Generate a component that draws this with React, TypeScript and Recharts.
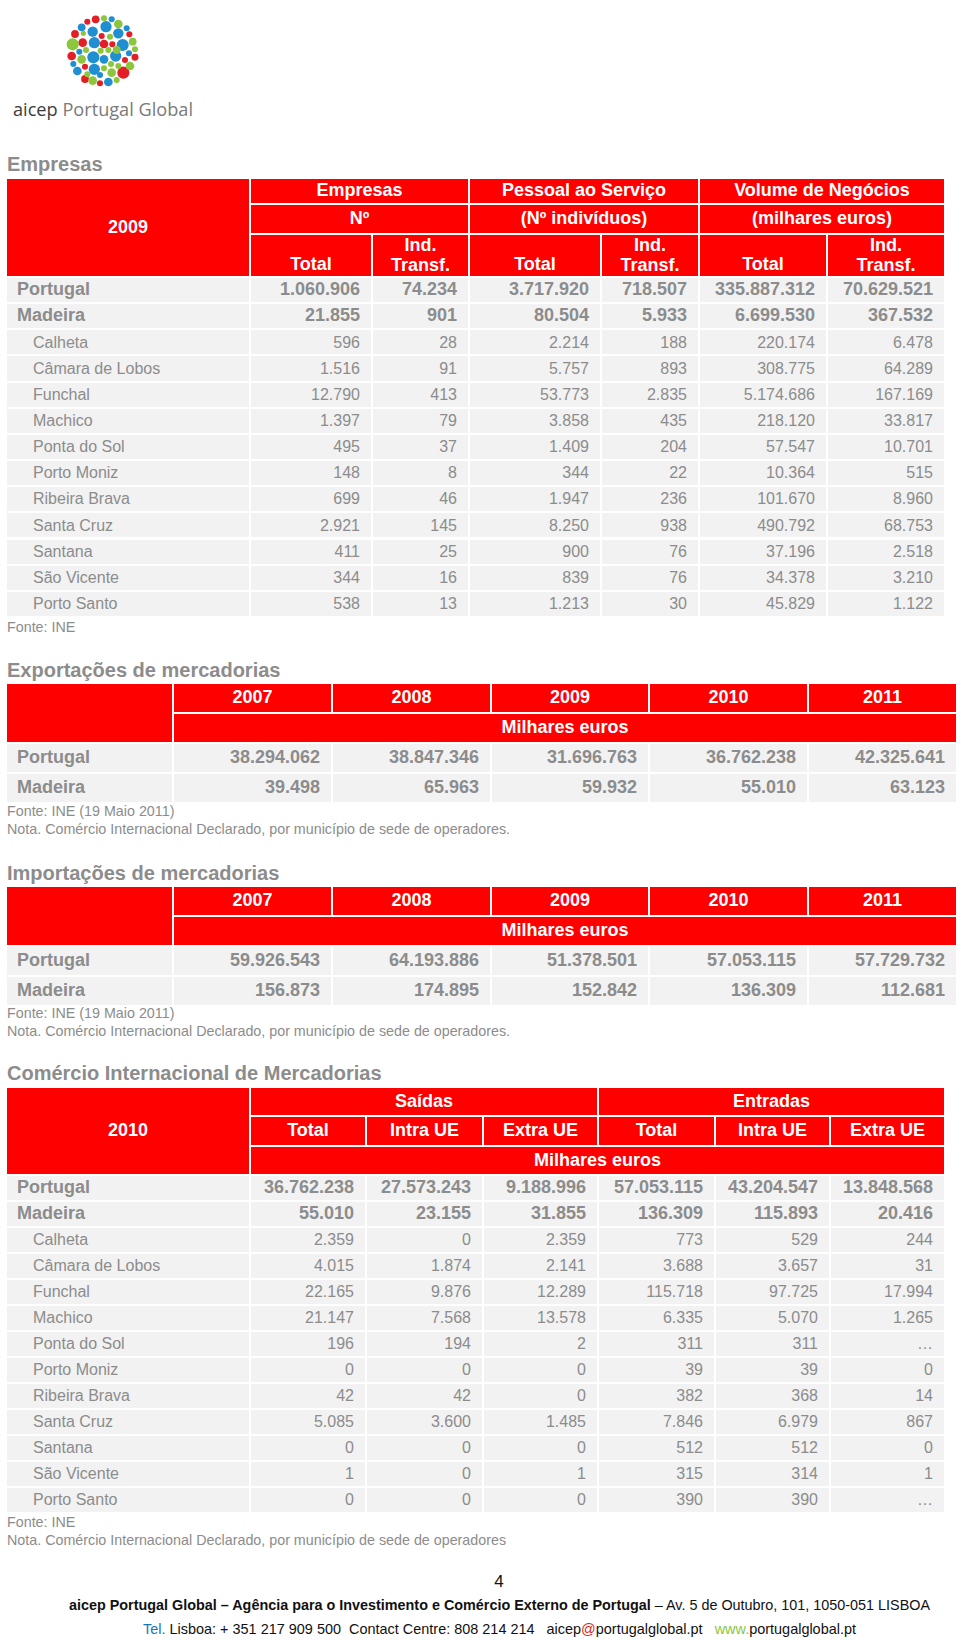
import React from 'react';
import { ScatterChart, Scatter, XAxis, YAxis } from 'recharts';

const FONT = '"Liberation Sans", Arial, Helvetica, sans-serif';
const GREY = '#8c8c8c';
const RED = '#ff0000';
const ROW_BG = '#f2f2f2';

// ---------- Empresas (2009) ----------
const empresasRegions = ['Portugal', 'Madeira', 'Calheta', 'Câmara de Lobos', 'Funchal', 'Machico', 'Ponta do Sol', 'Porto Moniz', 'Ribeira Brava', 'Santa Cruz', 'Santana', 'São Vicente', 'Porto Santo'];
const empresasTotal = ['1.060.906', '21.855', '596', '1.516', '12.790', '1.397', '495', '148', '699', '2.921', '411', '344', '538'];
const empresasInd = ['74.234', '901', '28', '91', '413', '79', '37', '8', '46', '145', '25', '16', '13'];
const pessoalTotal = ['3.717.920', '80.504', '2.214', '5.757', '53.773', '3.858', '1.409', '344', '1.947', '8.250', '900', '839', '1.213'];
const pessoalInd = ['718.507', '5.933', '188', '893', '2.835', '435', '204', '22', '236', '938', '76', '76', '30'];
const volumeTotal = ['335.887.312', '6.699.530', '220.174', '308.775', '5.174.686', '218.120', '57.547', '10.364', '101.670', '490.792', '37.196', '34.378', '45.829'];
const volumeInd = ['70.629.521', '367.532', '6.478', '64.289', '167.169', '33.817', '10.701', '515', '8.960', '68.753', '2.518', '3.210', '1.122'];

// ---------- Exportações / Importações ----------
const tradeYears = ['2007', '2008', '2009', '2010', '2011'];
const tradeRegions = ['Portugal', 'Madeira'];
const exportPortugal = ['38.294.062', '38.847.346', '31.696.763', '36.762.238', '42.325.641'];
const exportMadeira = ['39.498', '65.963', '59.932', '55.010', '63.123'];
const importPortugal = ['59.926.543', '64.193.886', '51.378.501', '57.053.115', '57.729.732'];
const importMadeira = ['156.873', '174.895', '152.842', '136.309', '112.681'];

// ---------- Comércio Internacional (2010) ----------
const comercioRegions = ['Portugal', 'Madeira', 'Calheta', 'Câmara de Lobos', 'Funchal', 'Machico', 'Ponta do Sol', 'Porto Moniz', 'Ribeira Brava', 'Santa Cruz', 'Santana', 'São Vicente', 'Porto Santo'];
const saidasTotal = ['36.762.238', '55.010', '2.359', '4.015', '22.165', '21.147', '196', '0', '42', '5.085', '0', '1', '0'];
const saidasIntra = ['27.573.243', '23.155', '0', '1.874', '9.876', '7.568', '194', '0', '42', '3.600', '0', '0', '0'];
const saidasExtra = ['9.188.996', '31.855', '2.359', '2.141', '12.289', '13.578', '2', '0', '0', '1.485', '0', '1', '0'];
const entradasTotal = ['57.053.115', '136.309', '773', '3.688', '115.718', '6.335', '311', '39', '382', '7.846', '512', '315', '390'];
const entradasIntra = ['43.204.547', '115.893', '529', '3.657', '97.725', '5.070', '311', '39', '368', '6.979', '512', '314', '390'];
const entradasExtra = ['13.848.568', '20.416', '244', '31', '17.994', '1.265', '…', '0', '14', '867', '0', '1', '…'];
const comercioSubHeaders = ['Total', 'Intra UE', 'Extra UE', 'Total', 'Intra UE', 'Extra UE'];

// ---------- Logo dots ----------
const logoRed = [
  { x: 262, y: 65, r: 7 }, { x: 287, y: 58, r: 9 }, { x: 225, y: 102, r: 9 }, { x: 305, y: 108, r: 7 },
  { x: 388, y: 103, r: 7 }, { x: 248, y: 128, r: 10 }, { x: 312, y: 132, r: 10 }, { x: 337, y: 133, r: 7 },
  { x: 215, y: 168, r: 10 }, { x: 375, y: 180, r: 7 }, { x: 405, y: 172, r: 8 }, { x: 255, y: 200, r: 7 },
  { x: 370, y: 218, r: 14 }, { x: 255, y: 237, r: 9 }, { x: 300, y: 250, r: 7 },
];
const logoBlue = [
  { x: 335, y: 58, r: 7 }, { x: 245, y: 82, r: 9 }, { x: 318, y: 80, r: 13 }, { x: 380, y: 85, r: 7 },
  { x: 278, y: 95, r: 12 }, { x: 355, y: 100, r: 12 }, { x: 283, y: 128, r: 13 }, { x: 368, y: 135, r: 14 },
  { x: 238, y: 155, r: 7 }, { x: 387, y: 160, r: 7 }, { x: 280, y: 172, r: 14 }, { x: 312, y: 178, r: 10 },
  { x: 347, y: 168, r: 13 }, { x: 220, y: 192, r: 7 }, { x: 283, y: 208, r: 13 }, { x: 232, y: 213, r: 10 },
  { x: 300, y: 225, r: 7 }, { x: 325, y: 246, r: 10 },
];
const logoGreen = [
  { x: 312, y: 55, r: 7 }, { x: 355, y: 72, r: 10 }, { x: 250, y: 100, r: 6 }, { x: 330, y: 110, r: 7 },
  { x: 218, y: 133, r: 14 }, { x: 398, y: 125, r: 9 }, { x: 258, y: 150, r: 7 }, { x: 302, y: 152, r: 7 },
  { x: 325, y: 150, r: 7 }, { x: 350, y: 150, r: 9 }, { x: 405, y: 148, r: 7 }, { x: 245, y: 178, r: 10 },
  { x: 312, y: 205, r: 7 }, { x: 333, y: 192, r: 7 }, { x: 355, y: 198, r: 7 }, { x: 390, y: 198, r: 10 },
  { x: 262, y: 223, r: 7 }, { x: 335, y: 218, r: 10 }, { x: 278, y: 242, r: 10 }, { x: 350, y: 240, r: 7 },
];

type BoxProps = {
  x0: number; x1: number; y0: number; y1: number;
  bg?: string; align?: 'left' | 'center' | 'right'; valign?: 'top' | 'center' | 'bottom';
  pl?: number; pr?: number; pb?: number; bold?: boolean; size?: number; color?: string;
  children?: React.ReactNode;
};

function Box({ x0, x1, y0, y1, bg, align = 'center', valign = 'center', pl = 0, pr = 0, pb = 0, bold = false, size = 18, color = '#fff', children }: BoxProps) {
  return (
    <div
      style={{
        position: 'absolute', left: x0 + 1, top: y0 + 1, width: x1 - x0 - 2, height: y1 - y0 - 2,
        background: bg, display: 'flex', boxSizing: 'border-box',
        justifyContent: align === 'left' ? 'flex-start' : align === 'right' ? 'flex-end' : 'center',
        alignItems: valign === 'top' ? 'flex-start' : valign === 'bottom' ? 'flex-end' : 'center',
        paddingLeft: pl, paddingRight: pr, paddingBottom: pb,
        fontFamily: FONT, fontWeight: bold ? 700 : 400, fontSize: size, color, lineHeight: 1.1,
        textAlign: align, whiteSpace: 'nowrap',
      }}
    >
      <div>{children}</div>
    </div>
  );
}

function Text({ x, y, size, bold, children, color = GREY }: { x: number; y: number; size: number; bold?: boolean; color?: string; children: React.ReactNode }) {
  return (
    <div style={{ position: 'absolute', left: x, top: y - size * 0.6, fontFamily: FONT, fontSize: size, fontWeight: bold ? 700 : 400, color, lineHeight: 1.2, whiteSpace: 'nowrap' }}>
      {children}
    </div>
  );
}

// A line of text squeezed horizontally to a target width (condensed look)
function FitLine({ x, y, width, size, children }: { x: number; y: number; width: number; size: number; children: React.ReactNode }) {
  const ref = React.useRef<HTMLSpanElement>(null);
  const [scale, setScale] = React.useState(1);
  React.useLayoutEffect(() => {
    if (ref.current) {
      const w = ref.current.getBoundingClientRect().width;
      if (w > 0) setScale(width / w);
    }
  }, [width]);
  return (
    <div style={{ position: 'absolute', left: x, top: y - size * 0.6, fontFamily: FONT, fontSize: size, lineHeight: 1.2, whiteSpace: 'pre', color: '#111', transform: `scaleX(${scale})`, transformOrigin: 'left center' }}>
      <span ref={ref}>{children}</span>
    </div>
  );
}

function DataRows({ xs, y0, rowH, labels, cols }: { xs: number[]; y0: number; rowH: number; labels: string[]; cols: string[][] }) {
  const out: React.ReactNode[] = [];
  labels.forEach((lab, i) => {
    const top = y0 + i * rowH;
    const bot = y0 + (i + 1) * rowH;
    const main = i < 2;
    out.push(
      <Box key={'l' + i} x0={xs[0]} x1={xs[1]} y0={top} y1={bot} bg={ROW_BG} align="left" pl={10} bold={main} size={main ? 18 : 16} color={GREY}>
        {main ? lab : <span style={{ paddingLeft: 16 }}>{lab}</span>}
      </Box>
    );
    cols.forEach((col, j) => {
      out.push(
        <Box key={'c' + i + '_' + j} x0={xs[j + 1]} x1={xs[j + 2]} y0={top} y1={bot} bg={ROW_BG} align="right" pr={11} bold={main} size={main ? 18 : 16} color={GREY}>{col[i]}</Box>
      );
    });
  });
  return <>{out}</>;
}

function TradeTable({ top, title, portugal, madeira, fonteY }: { top: number; title: string; portugal: string[]; madeira: string[]; fonteY: number }) {
  const xs = [6, 173, 332, 491, 649, 808, 957];
  const ys = [top, top + 30, top + 60, top + 90, top + 120];
  return (
    <>
      <Text x={7} y={top - 13} size={20} bold>{title}</Text>
      <Box x0={xs[0]} x1={xs[1]} y0={ys[0]} y1={ys[2]} bg={RED} />
      {tradeYears.map((yr, i) => (
        <Box key={yr} x0={xs[i + 1]} x1={xs[i + 2]} y0={ys[0]} y1={ys[1]} bg={RED} bold>{yr}</Box>
      ))}
      <Box x0={xs[1]} x1={xs[6]} y0={ys[1]} y1={ys[2]} bg={RED} bold>Milhares euros</Box>
      <DataRows xs={xs} y0={ys[2]} rowH={30} labels={tradeRegions} cols={tradeYears.map((_, i) => [portugal[i], madeira[i]])} />
      <Text x={7} y={fonteY} size={14.3}>Fonte: INE (19 Maio 2011)</Text>
      <Text x={7} y={fonteY + 18} size={14.3}>Nota. Comércio Internacional Declarado, por município de sede de operadores.</Text>
    </>
  );
}

function Logo() {
  const shape = (color: string) => (p: any) => <circle cx={p.cx} cy={p.cy} r={(p.payload.r / 3) * 1.3} fill={color} />;
  return (
    <div style={{ position: 'absolute', left: 0, top: 0 }}>
      <ScatterChart width={220} height={130} margin={{ top: 0, right: 0, bottom: 0, left: 0 }}>
        <XAxis type="number" dataKey="x" domain={[0, 660]} hide />
        <YAxis type="number" dataKey="y" domain={[0, 390]} reversed hide />
        <Scatter data={logoRed} fill="#e31e24" shape={shape('#e31e24')} isAnimationActive={false} />
        <Scatter data={logoBlue} fill="#1f8fd1" shape={shape('#1f8fd1')} isAnimationActive={false} />
        <Scatter data={logoGreen} fill="#8cc63f" shape={shape('#8cc63f')} isAnimationActive={false} />
      </ScatterChart>
      <svg width={220} height={130} style={{ position: 'absolute', left: 0, top: 0 }}>
        <text x={13} y={116} fontFamily='"Open Sans", sans-serif' fontSize={18} textLength={180} lengthAdjust="spacingAndGlyphs">
          <tspan fill="#3c3c3c">aicep </tspan>
          <tspan fill="#7a7a7a">Portugal Global</tspan>
        </text>
      </svg>
    </div>
  );
}

export default function App() {
  const xE = [6, 250, 372, 469, 601, 699, 827, 945];
  const yE = [178, 204, 234, 277];
  const xC = [6, 250, 366, 483, 598, 715, 830, 945];
  const yC = [1087, 1116, 1146, 1175];
  return (
    <div style={{ position: 'absolute', left: 0, top: 0, width: 960, height: 1643, background: '#fff', overflow: 'hidden' }}>
      <Logo />

      {/* Empresas */}
      <Text x={7} y={164} size={20} bold>Empresas</Text>
      <Box x0={xE[0]} x1={xE[1]} y0={yE[0]} y1={yE[3]} bg={RED} bold>2009</Box>
      <Box x0={xE[1]} x1={xE[3]} y0={yE[0]} y1={yE[1]} bg={RED} bold>Empresas</Box>
      <Box x0={xE[3]} x1={xE[5]} y0={yE[0]} y1={yE[1]} bg={RED} bold>Pessoal ao Serviço</Box>
      <Box x0={xE[5]} x1={xE[7]} y0={yE[0]} y1={yE[1]} bg={RED} bold>Volume de Negócios</Box>
      <Box x0={xE[1]} x1={xE[3]} y0={yE[1]} y1={yE[2]} bg={RED} bold>Nº</Box>
      <Box x0={xE[3]} x1={xE[5]} y0={yE[1]} y1={yE[2]} bg={RED} bold>(Nº indivíduos)</Box>
      <Box x0={xE[5]} x1={xE[7]} y0={yE[1]} y1={yE[2]} bg={RED} bold>(milhares euros)</Box>
      {[0, 1, 2].map((k) => (
        <React.Fragment key={k}>
          <Box x0={xE[1 + 2 * k]} x1={xE[2 + 2 * k]} y0={yE[2]} y1={yE[3]} bg={RED} bold valign="bottom" pb={1}>Total</Box>
          <Box x0={xE[2 + 2 * k]} x1={xE[3 + 2 * k]} y0={yE[2]} y1={yE[3]} bg={RED} bold>Ind.<br />Transf.</Box>
        </React.Fragment>
      ))}
      <DataRows xs={xE} y0={277} rowH={26.15} labels={empresasRegions} cols={[empresasTotal, empresasInd, pessoalTotal, pessoalInd, volumeTotal, volumeInd]} />
      <Text x={7} y={628} size={14.3}>Fonte: INE</Text>

      <TradeTable top={683} title="Exportações de mercadorias" portugal={exportPortugal} madeira={exportMadeira} fonteY={812} />
      <TradeTable top={886} title="Importações de mercadorias" portugal={importPortugal} madeira={importMadeira} fonteY={1014} />

      {/* Comércio Internacional */}
      <Text x={7} y={1073} size={20} bold>Comércio Internacional de Mercadorias</Text>
      <Box x0={xC[0]} x1={xC[1]} y0={yC[0]} y1={yC[3]} bg={RED} bold>2010</Box>
      <Box x0={xC[1]} x1={xC[4]} y0={yC[0]} y1={yC[1]} bg={RED} bold>Saídas</Box>
      <Box x0={xC[4]} x1={xC[7]} y0={yC[0]} y1={yC[1]} bg={RED} bold>Entradas</Box>
      {comercioSubHeaders.map((h, i) => (
        <Box key={'h' + i} x0={xC[i + 1]} x1={xC[i + 2]} y0={yC[1]} y1={yC[2]} bg={RED} bold>{h}</Box>
      ))}
      <Box x0={xC[1]} x1={xC[7]} y0={yC[2]} y1={yC[3]} bg={RED} bold>Milhares euros</Box>
      <DataRows xs={xC} y0={1175} rowH={26} labels={comercioRegions} cols={[saidasTotal, saidasIntra, saidasExtra, entradasTotal, entradasIntra, entradasExtra]} />
      <Text x={7} y={1523} size={14.3}>Fonte: INE</Text>
      <Text x={7} y={1541} size={14.3}>Nota. Comércio Internacional Declarado, por município de sede de operadores</Text>

      {/* Footer */}
      <div style={{ position: 'absolute', left: 0, width: 998, top: 1572, textAlign: 'center', fontFamily: FONT, fontSize: 17, color: '#111', lineHeight: '20px' }}>4</div>
      <FitLine x={69} y={1605} width={861} size={15}>
        <b>aicep Portugal Global – Agência para o Investimento e Comércio Externo de Portugal</b>
        {' – Av. 5 de Outubro, 101, 1050-051 LISBOA'}
      </FitLine>
      <FitLine x={143} y={1629} width={713} size={15}>
        <span style={{ color: '#1b75bb' }}>Tel.</span>
        {' Lisboa: + 351 217 909 500  Contact Centre: 808 214 214   aicep'}
        <span style={{ color: '#e31e24' }}>@</span>
        {'portugalglobal.pt   '}
        <span style={{ color: '#8cc63f' }}>www.</span>
        {'portugalglobal.pt'}
      </FitLine>
    </div>
  );
}
